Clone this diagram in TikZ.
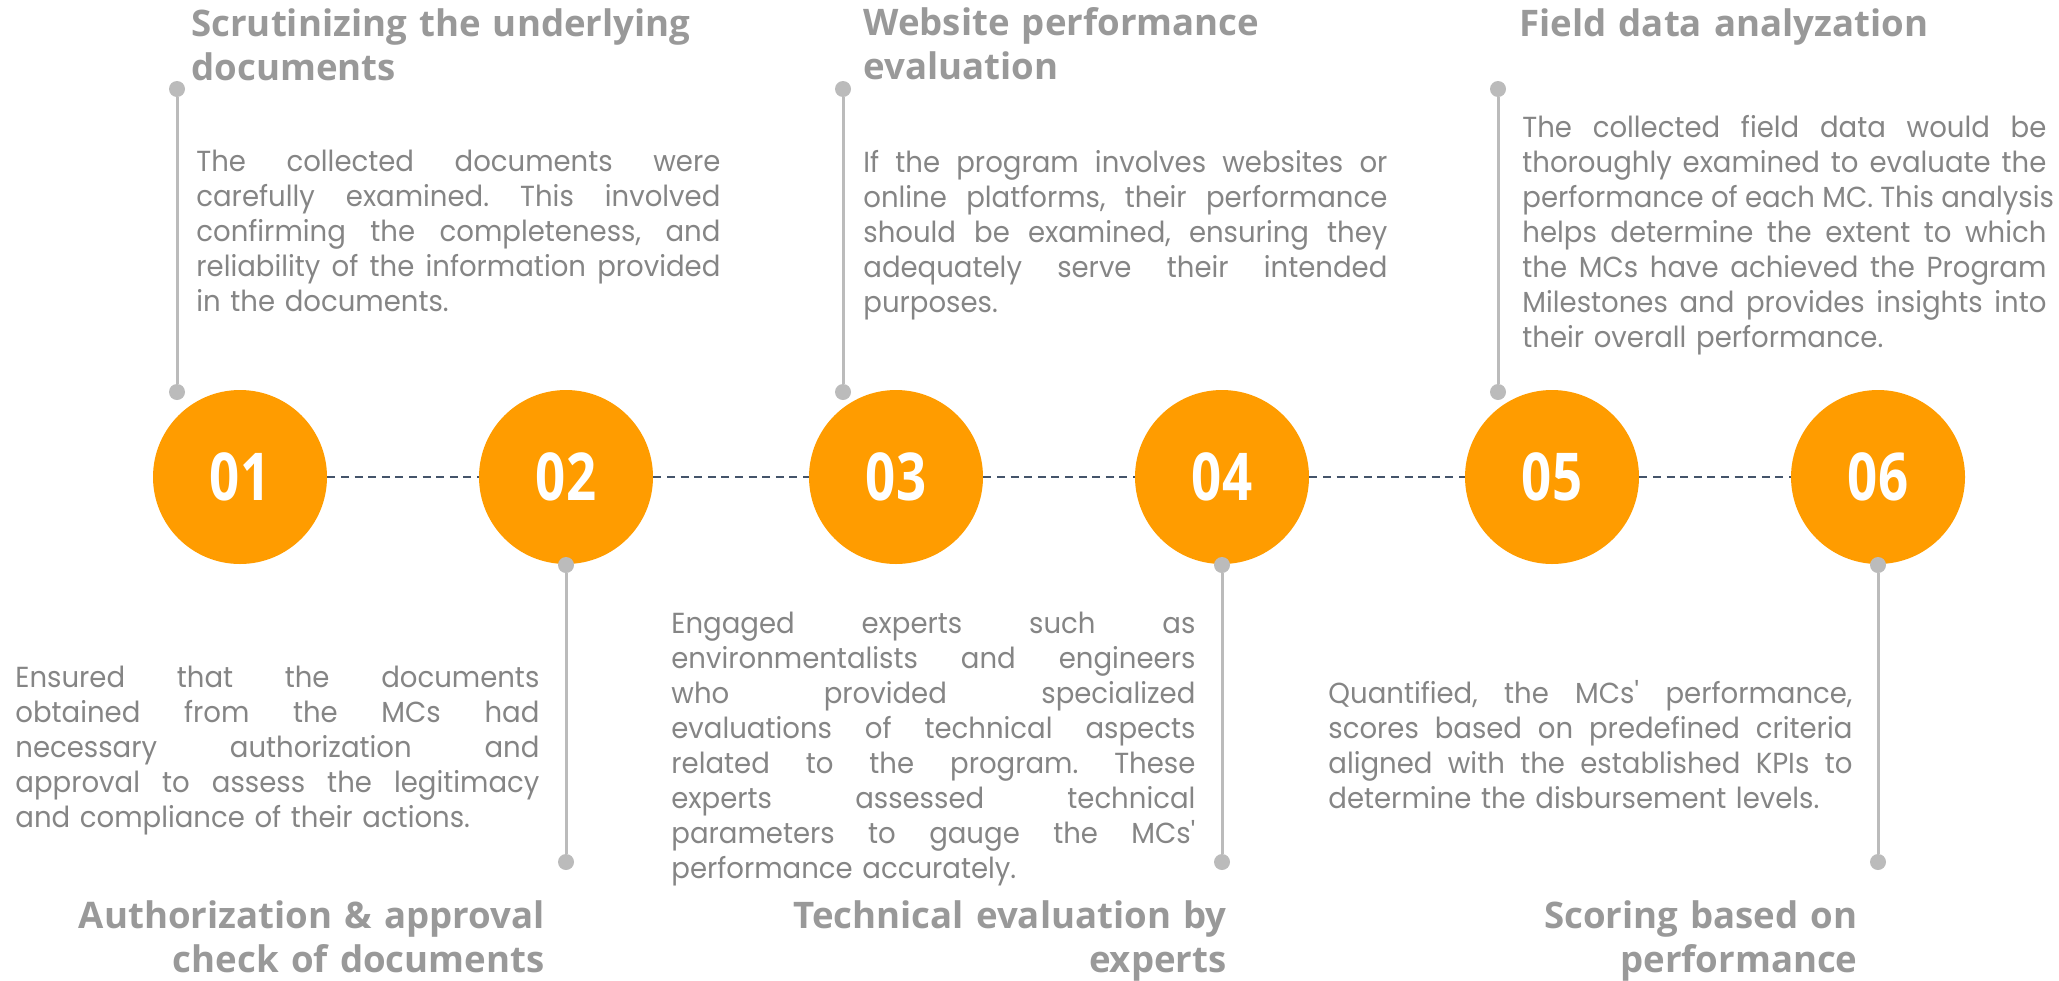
\documentclass[tikz,border=0pt]{standalone}
\usepackage{fontspec}
\setmainfont{Poppins}[FakeStretch=0.95]
\newfontfamily\headfont{Open Sans}
\newfontfamily\numfont{Open Sans}[FakeStretch=0.8]

\definecolor{stepOrange}{HTML}{FF9C00}
\definecolor{pinGray}{HTML}{BBBBBB}
\definecolor{bodyGray}{HTML}{858585}
\definecolor{headGray}{HTML}{999999}
\definecolor{dashSlate}{HTML}{44546A}

% one justified line of a description block
\newcommand\jl[1]{\makebox[262pt][s]{\spaceskip=0.25em plus 1fil\relax #1}}
\newcommand\apos{\textquotesingle}

\begin{document}
\frenchspacing
\begin{tikzpicture}[
  x=0.5pt, y=-0.5pt,
  stepdisc/.style={circle, fill=stepOrange, minimum size=87pt, inner sep=0pt,
    text=white, font=\numfont\bfseries\fontsize{33pt}{33pt}\selectfont},
  pindot/.style={circle, fill=pinGray, minimum size=8pt, inner sep=0pt},
  pinline/.style={draw=pinGray, line width=1.5pt},
  dashline/.style={draw=dashSlate, line width=1.1pt, dash pattern=on 4pt off 2.8pt},
  bodytext/.style={anchor=base west, inner sep=0pt, text width=262pt, align=left,
    text=bodyGray, font=\fontsize{14.5pt}{17.5pt}\selectfont},
  headL/.style={anchor=base west, inner sep=0pt, text width=400pt, align=left,
    text=headGray, font=\headfont\bfseries\fontsize{18.3pt}{22pt}\selectfont},
  headR/.style={anchor=base east, inner sep=0pt, text width=300pt, align=right,
    text=headGray, font=\headfont\bfseries\fontsize{18.3pt}{22pt}\selectfont},
]
\useasboundingbox (0,0) rectangle (2059,980);

% timeline discs
\node[stepdisc] (c1) at (240,477)  {01};
\node[stepdisc] (c2) at (566,477)  {02};
\node[stepdisc] (c3) at (896,477)  {03};
\node[stepdisc] (c4) at (1222,477) {04};
\node[stepdisc] (c5) at (1552,477) {05};
\node[stepdisc] (c6) at (1878,477) {06};

% dashed links between the discs
\draw[dashline] (c1) -- (c2);
\draw[dashline] (c2) -- (c3);
\draw[dashline] (c3) -- (c4);
\draw[dashline] (c4) -- (c5);
\draw[dashline] (c5) -- (c6);

% pins above steps 1, 3, 5
\node[pindot] (p1a) at (177,89)  {};
\node[pindot] (p1b) at (177,392) {};
\node[pindot] (p3a) at (843,89)  {};
\node[pindot] (p3b) at (843,392) {};
\node[pindot] (p5a) at (1498,89)  {};
\node[pindot] (p5b) at (1498,392) {};
% pins below steps 2, 4, 6
\node[pindot] (p2a) at (566,565) {};
\node[pindot] (p2b) at (566,862) {};
\node[pindot] (p4a) at (1222,565) {};
\node[pindot] (p4b) at (1222,862) {};
\node[pindot] (p6a) at (1878,565) {};
\node[pindot] (p6b) at (1878,862) {};

\draw[pinline] (p1a) -- (p1b);
\draw[pinline] (p3a) -- (p3b);
\draw[pinline] (p5a) -- (p5b);
\draw[pinline] (p2a) -- (p2b);
\draw[pinline] (p4a) -- (p4b);
\draw[pinline] (p6a) -- (p6b);

% headings
\node[headL] (h1) at (191,36) {Scrutinizing the underlying\\documents};
\node[headL] (h3) at (863,35) {Website performance\\evaluation};
\node[headL] (h5) at (1519,36) {Field data analyzation};
\node[headR] (h2) at (545,928) {Authorization \& approval\\check of documents};
\node[headR] (h4) at (1227,928) {Technical evaluation by\\experts};
\node[headR] (h6) at (1858,928) {Scoring based on\\performance};

% descriptions
\node[bodytext] (d1) at (196,171) {%
\jl{The collected documents were}\\
\jl{carefully examined. This involved}\\
\jl{confirming the completeness, and}\\
\jl{reliability of the information provided}\\
in the documents.};

\node[bodytext] (d2) at (15,687) {%
\jl{Ensured that the documents}\\
\jl{obtained from the MCs had}\\
\jl{necessary authorization and}\\
\jl{approval to assess the legitimacy}\\
and compliance of their actions.};

\node[bodytext] (d3) at (863,172) {%
\jl{If the program involves websites or}\\
\jl{online platforms, their performance}\\
\jl{should be examined, ensuring they}\\
\jl{adequately serve their intended}\\
purposes.};

\node[bodytext] (d4) at (671,633) {%
\jl{Engaged experts such as}\\
\jl{environmentalists and engineers}\\
\jl{who provided specialized}\\
\jl{evaluations of technical aspects}\\
\jl{related to the program. These}\\
\jl{experts assessed technical}\\
\jl{parameters to gauge the MCs\apos}\\
performance accurately.};

\node[bodytext] (d5) at (1522,137) {%
\jl{The collected field data would be}\\
\jl{thoroughly examined to evaluate the}\\
\jl{performance of each MC. This analysis}\\
\jl{helps determine the extent to which}\\
\jl{the MCs have achieved the Program}\\
\jl{Milestones and provides insights into}\\
their overall performance.};

\node[bodytext] (d6) at (1328,703) {%
\jl{Quantified, the MCs\apos{} performance,}\\
\jl{scores based on predefined criteria}\\
\jl{aligned with the established KPIs to}\\
determine the disbursement levels.};

\end{tikzpicture}
\end{document}
